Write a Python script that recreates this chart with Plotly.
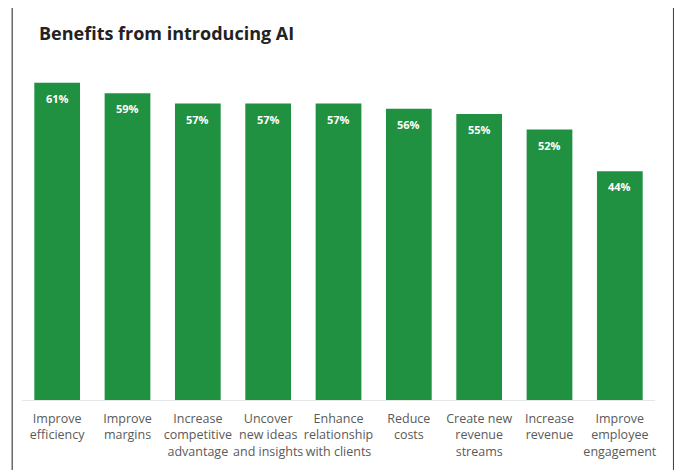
import plotly.graph_objects as go

categories = [
    "Improve<br>efficiency",
    "Improve<br>margins",
    "Increase<br>competitive<br>advantage",
    "Uncover<br>new ideas<br>and insights",
    "Enhance<br>relationship<br>with clients",
    "Reduce<br>costs",
    "Create new<br>revenue<br>streams",
    "Increase<br>revenue",
    "Improve<br>employee<br>engagement",
]
values = [61, 59, 57, 57, 57, 56, 55, 52, 44]
value_labels = [f"{v}%" for v in values]

GREEN = "#1f9140"
FONT = "Open Sans"

fig = go.Figure(
    go.Bar(
        x=list(range(len(categories))),
        y=values,
        marker=dict(color=GREEN, line=dict(width=0)),
        hoverinfo="skip",
    )
)

for i, (v, lab) in enumerate(zip(values, value_labels)):
    fig.add_annotation(
        x=i, y=v, text=f"<b>{lab}</b>", showarrow=False,
        yanchor="top", yshift=-6,
        font=dict(family=FONT, size=11, color="white"),
    )

fig.add_annotation(
    xref="paper", yref="paper", x=0.024, y=1.086, xanchor="left", yanchor="middle",
    text="<b>Benefits from introducing AI</b>", showarrow=False,
    font=dict(family=FONT, size=18, color="#222222"),
)

# outer frame
fig.add_shape(type="rect", xref="paper", yref="paper",
              x0=-0.0155, x1=1.0293, y0=-0.35, y1=1.1657,
              line=dict(color="#444444", width=1.2), fillcolor="rgba(0,0,0,0)")

fig.update_layout(
    width=682, height=470,
    margin=dict(l=14, r=35, t=54, b=78, autoexpand=False),
    paper_bgcolor="white", plot_bgcolor="white",
    bargap=0.35,
    showlegend=False,
    font=dict(family=FONT),
    xaxis=dict(
        tickmode="array", tickvals=list(range(len(categories))), ticktext=categories,
        range=[-0.5, len(categories) - 0.5],
        showgrid=False, zeroline=False, showline=True, linecolor="#e6e6e6",
        ticks="", ticklabelstandoff=7, tickangle=0,
        tickfont=dict(family=FONT, size=12.5, color="#5a5a5a"),
        automargin=False, fixedrange=True,
    ),
    yaxis=dict(range=[0, 65], visible=False, fixedrange=True, automargin=False),
)

fig.write_html("out.html")
